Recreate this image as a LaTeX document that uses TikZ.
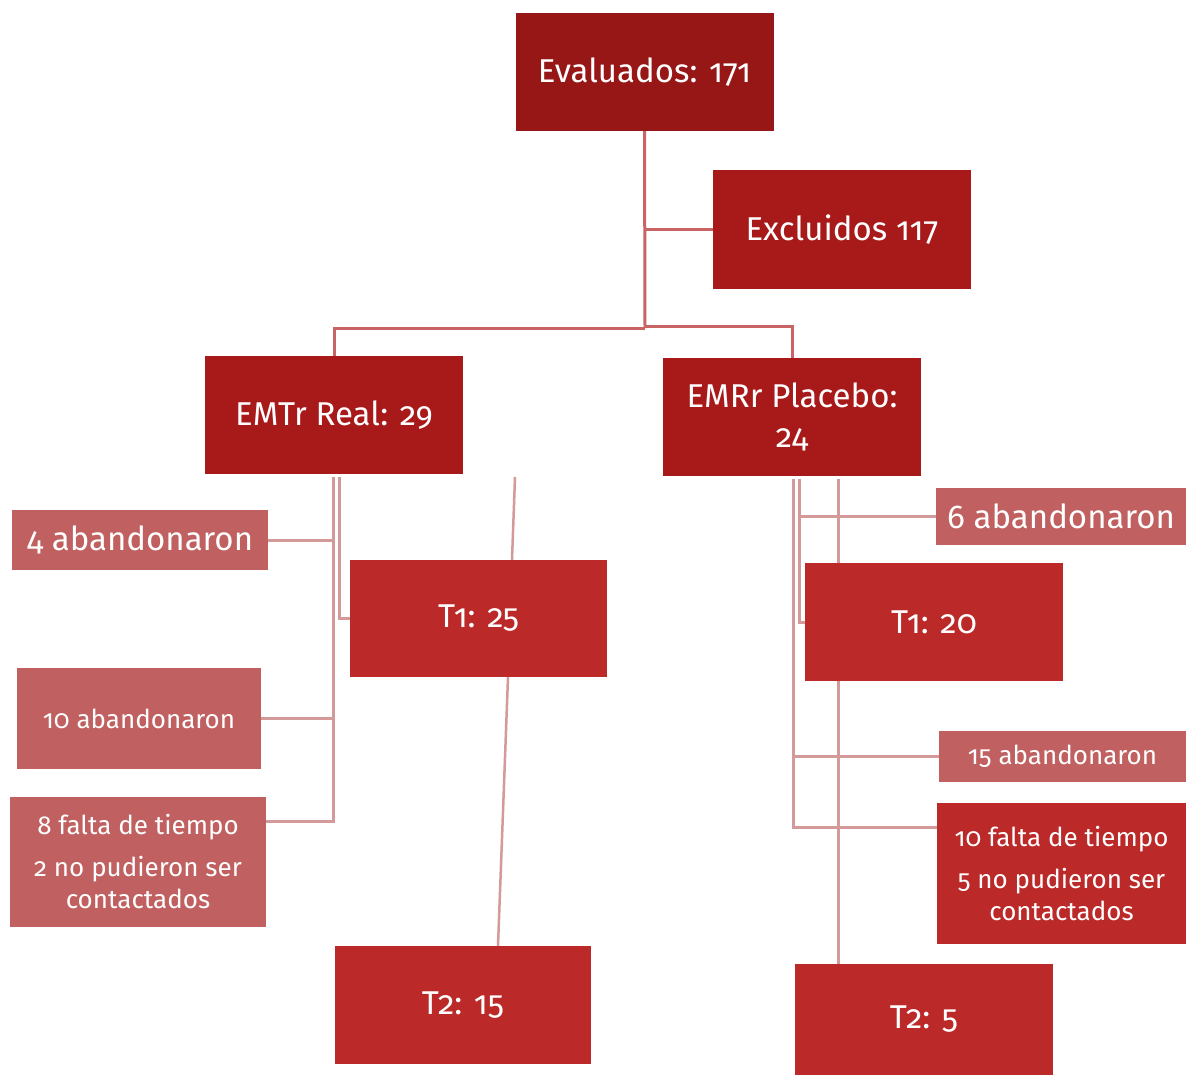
\documentclass[tikz,border=0pt]{standalone}
\usepackage{fontspec}
\setmainfont{Fira Sans}[Numbers=OldStyle]
\begin{document}
\begin{tikzpicture}[x=1pt,y=-1pt,
  box/.style={rectangle, inner sep=0pt, text=white, align=center, font=\fontsize{33}{38}\selectfont},
  dk/.style={box, fill=evalred},
  md/.style={box, fill=midred},
  lt/.style={box, fill=tred},
  sal/.style={box, fill=salmon},
  topline/.style={draw=lineA, line width=3pt},
  lowline/.style={draw=lineB, line width=3pt},
  small/.style={font=\fontsize{26}{32}\selectfont}]
\definecolor{evalred}{HTML}{971717}
\definecolor{midred}{HTML}{A8191A}
\definecolor{tred}{HTML}{BB2929}
\definecolor{salmon}{HTML}{C06060}
\definecolor{lineA}{HTML}{C86464}
\definecolor{lineB}{HTML}{D49A9A}
\useasboundingbox (0,0) rectangle (1186,1076);
\fill[white] (0,0) rectangle (1186,1076);

\coordinate (j1) at (645,328);
\coordinate (lv1) at (333,477);
\coordinate (lv2) at (339,477);
\coordinate (rv1) at (793,479);
\coordinate (rv2) at (799,479);
\coordinate (rv3) at (838,479);
\coordinate (s1) at (515,477);

% nodes
\node[dk, minimum width=258, minimum height=118] (eval) at (644.5,72) {Evaluados: 171};
\node[md, minimum width=258, minimum height=119] (excl) at (842,229.5) {Excluidos 117};
\node[md, minimum width=258, minimum height=118] (real) at (334,415) {EMTr Real: 29};
\node[md, minimum width=258, minimum height=118] (plac) at (792,417) {EMRr Placebo:\\[2pt]24};
\node[sal, minimum width=256, minimum height=60] (ab4) at (140,540) {4 abandonaron};
\node[lt, minimum width=257, minimum height=117] (t1a) at (478.5,618.5) {T1: 25};
\node[sal, small, minimum width=244, minimum height=101] (ab10) at (139,718.5) {10 abandonaron};
\node[sal, small, minimum width=256, minimum height=130] (f8) at (138,862) {8 falta de tiempo\\[10pt]2 no pudieron ser\\contactados};
\node[lt, minimum width=256, minimum height=118] (t2a) at (463,1005) {T2: 15};
\node[sal, minimum width=250, minimum height=57] (ab6) at (1061,516.5) {6 abandonaron};
\node[lt, minimum width=258, minimum height=118] (t1b) at (934,622) {T1: 20};
\node[sal, small, minimum width=247, minimum height=51] (ab15) at (1062.5,756.5) {15 abandonaron};
\node[lt, small, minimum width=249, minimum height=141] (f10) at (1061.5,873.5) {10 falta de tiempo\\[10pt]5 no pudieron ser\\contactados};
\node[lt, minimum width=258, minimum height=111] (t2b) at (924,1019.5) {T2: 5};

% top connectors
\draw[topline] (eval.south) -- (j1);
\draw[topline] (eval.south |- excl.west) -- (excl.west);
\draw[topline] (j1) -| (real.north);
\draw[topline] ([yshift=2pt]j1) -| (plac.north);

% left branch
\draw[lowline] (lv1) -- (lv1 |- 0,821) -- (f8.east |- 0,821);
\draw[lowline] (ab4.east) -- (ab4.east -| lv1);
\draw[lowline] (ab10.east) -- (ab10.east -| lv1);
\draw[lowline] (lv2) -- (lv2 |- t1a.west) -- (t1a.west);
\draw[lowline, line width=2.5pt] (s1) -- ([xshift=33.5pt]t1a.north);
\draw[lowline, line width=2.5pt] ([xshift=29.5pt]t1a.south) -- ([xshift=35pt]t2a.north);

% right branch
\draw[lowline] (rv1) -- (rv1 |- 0,827) -- (rv1 |- 0,827 -| f10.west);
\draw[lowline] (rv1 |- ab15.west) -- (ab15.west);
\draw[lowline] (rv2) -- (rv2 |- t1b.west) -- (t1b.west);
\draw[lowline] (rv2 |- ab6.west) -- (ab6.west);
\draw[lowline] (rv3) -- (rv3 |- t1b.north);
\draw[lowline] (rv3 |- t1b.south) -- (rv3 |- t2b.north);
\end{tikzpicture}
\end{document}
